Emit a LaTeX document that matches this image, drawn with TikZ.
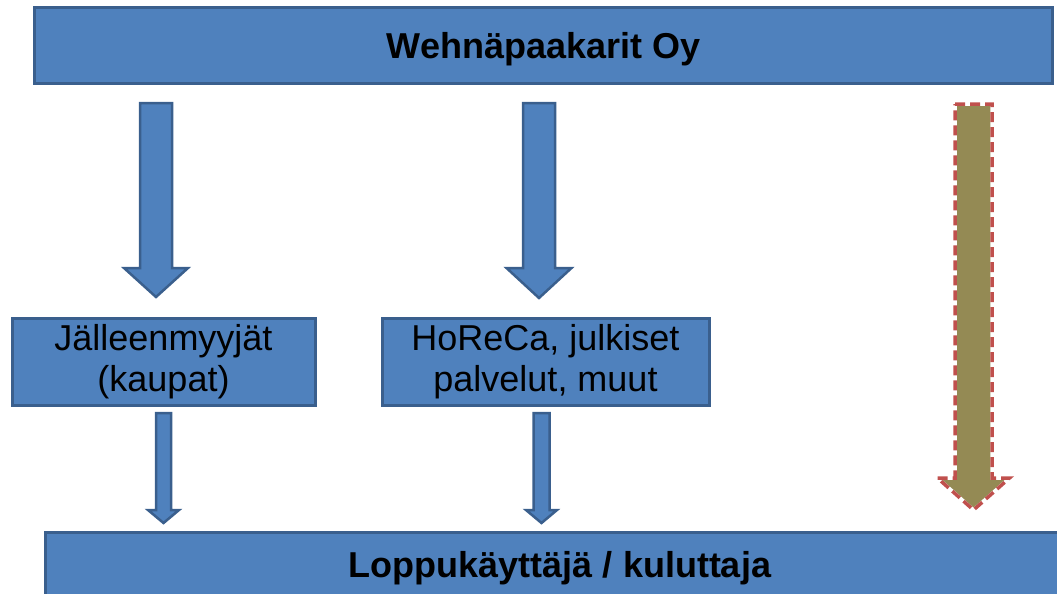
\documentclass[tikz,border=0pt]{standalone}
\usepackage{fontspec}
\setmainfont{Liberation Sans}
\usetikzlibrary{calc}

\definecolor{boxblue}{HTML}{4F81BD}
\definecolor{boxline}{HTML}{3A5F8D}
\definecolor{olivefill}{HTML}{948A54}
\definecolor{dashred}{HTML}{C0504D}

\tikzset{
	blk/.style={draw=boxline, fill=boxblue, line width=3pt, inner sep=0pt,
		font=\fontsize{36}{41}\selectfont, align=center},
	bluearrow/.style={draw=boxline, fill=boxblue, line width=2.5pt, line join=miter},
	olivearrow/.style={draw=white, fill=olivefill, line width=3.5pt,
		postaction={draw=dashred, line width=3.5pt, dash pattern=on 10pt off 5pt}}
}

% block arrow: x, top, start of head, tip, shaft half width, head half width
\newcommand{\blockarrow}[7][bluearrow]{%
	\draw[#1] ({#2-#6},#3) -- ({#2+#6},#3) -- ({#2+#6},#4) -- ({#2+#7},#4)
	-- (#2,#5) -- ({#2-#7},#4) -- ({#2-#6},#4) -- cycle;}

\begin{document}
\begin{tikzpicture}[x=1pt, y=-1pt]
	\clip (0,0) rectangle (1057,594);
	\useasboundingbox (0,0) rectangle (1057,594);
	
	\node[blk, minimum width=1018pt, minimum height=75pt] (firm) at (543.5,45.5) {\raisebox{-4pt}[\height][\depth]{\bfseries Wehnäpaakarit Oy}};
	\node[blk, minimum width=303pt, minimum height=87pt] (retail) at (163.5,361.5) {Jälleenmyyjät\\(kaupat)};
	\node[blk, minimum width=327pt, minimum height=87pt] (horeca) at (545.5,361.5) {HoReCa, julkiset\\palvelut, muut};
	\node[blk, minimum width=1030pt, minimum height=68pt] (user) at (560,566) {\raisebox{-2pt}[\height][\depth]{\bfseries Loppukäyttäjä / kuluttaja}};
	
	% from the company
	\blockarrow{156}{103}{268}{297}{16}{32}
	\blockarrow{539}{103}{268}{298}{16}{32.5}
	\blockarrow[olivearrow]{973.5}{104}{478}{510}{18.5}{36}
	
	% to the end user
	\blockarrow{163.5}{413}{510}{523}{7.5}{15.5}
	\blockarrow{541.5}{413}{510}{523}{8}{15.5}
\end{tikzpicture}
\end{document}
